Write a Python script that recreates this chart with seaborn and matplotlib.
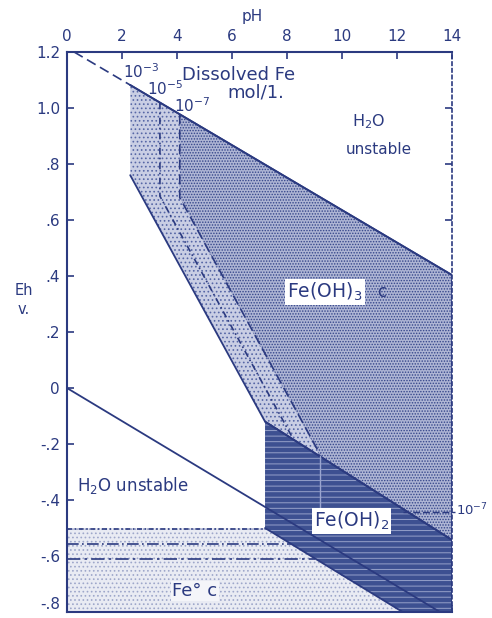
import matplotlib
matplotlib.use("Agg")
import matplotlib.pyplot as plt
import seaborn as sns

# ---------------- data (pH, Eh in volts) ----------------
x_ticks = [0, 2, 4, 6, 8, 10, 12, 14]
y_ticks = [1.2, 1.0, 0.8, 0.6, 0.4, 0.2, 0.0, -0.2, -0.4, -0.6, -0.8]
y_tick_labels = ["1.2", "1.0", ".8", ".6", ".4", ".2", "0", "-.2", "-.4", "-.6", "-.8"]

# water stability limits
o2_ph = [0.26, 2.3, 14.0]
o2_eh = [1.20, 1.082, 0.403]
h2_ph = [0.0, 13.56]
h2_eh = [0.0, -0.80]

# Fe(OH)3 field (10^-3 boundary)
feoh3_ph = [2.3, 14.0, 14.0, 7.2, 2.3]
feoh3_eh = [1.082, 0.403, -0.543, -0.12, 0.76]
# denser part of Fe(OH)3 field (right of 10^-7 boundary)
feoh3_dense_ph = [4.1, 14.0, 14.0, 9.2, 4.1]
feoh3_dense_eh = [0.977, 0.403, -0.543, -0.244, 0.68]

# Fe(OH)2 field
feoh2_ph = [7.2, 14.0, 14.0, 12.2, 7.2]
feoh2_eh = [-0.12, -0.543, -0.80, -0.80, -0.50]

# metallic Fe field
fe_ph = [0.0, 7.2, 12.2, 0.0]
fe_eh = [-0.50, -0.50, -0.80, -0.80]

# dissolved-Fe boundaries for 10^-5 and 10^-7 mol/l
c5_ph = [3.38, 3.38, 8.2]
c5_eh = [1.019, 0.685, -0.178]
c7_ph = [4.1, 4.1, 9.2]
c7_eh = [0.977, 0.68, -0.237]
c7_oh2_ph = [9.2, 9.2]
c7_oh2_eh = [-0.244, -0.50]

# Fe2+/Fe boundaries (10^-3, 10^-5, 10^-7)
fe_lines_eh = [-0.504, -0.557, -0.61]
fe_lines_end_ph = [7.27, 8.15, 9.03]

# right-hand 10^-7 pointer
ptr_ph = [12.2, 14.12]
ptr_eh = [-0.443, -0.443]

# ---------------- styling ----------------
sns.set_theme(style="ticks")
plt.rcParams["font.family"] = ["DejaVu Sans"]
plt.rcParams["mathtext.fontset"] = "dejavusans"
plt.rcParams["hatch.linewidth"] = 0.7

INK = "#2b3a80"

fig = plt.figure(figsize=(4.92, 6.18), dpi=100)
ax = fig.add_axes([0.136, 0.0097, 0.783, 0.9062])

# fields
ax.fill(fe_ph, fe_eh, facecolor="#e9ebf3", edgecolor="#9ea7ca", hatch="....", lw=0, zorder=1)
ax.fill(feoh3_ph, feoh3_eh, facecolor="#c9cee4", edgecolor="#5767a6", hatch="....", lw=0, zorder=1)
ax.fill(feoh3_dense_ph, feoh3_dense_eh, facecolor="#aeb5d4", edgecolor="#34458a", hatch="......", lw=0, zorder=2)
ax.fill(feoh2_ph, feoh2_eh, facecolor="#3d5091", edgecolor="#95a0c9", hatch="---", lw=0, zorder=2)

# field outlines
for px, py in [(feoh3_ph, feoh3_eh), (feoh2_ph, feoh2_eh)]:
    sns.lineplot(x=px, y=py, sort=False, estimator=None, color=INK, lw=1.3, ax=ax, zorder=4)

# water lines
sns.lineplot(x=o2_ph[:2], y=o2_eh[:2], sort=False, estimator=None, color=INK, lw=1.2,
             ax=ax, zorder=4, linestyle=(0, (6, 3)))
sns.lineplot(x=o2_ph[1:], y=o2_eh[1:], sort=False, estimator=None, color=INK, lw=1.3, ax=ax, zorder=4)
sns.lineplot(x=h2_ph, y=h2_eh, sort=False, estimator=None, color=INK, lw=1.3, ax=ax, zorder=4)

# concentration boundaries
sns.lineplot(x=c5_ph, y=c5_eh, sort=False, estimator=None, color=INK, lw=1.2, ax=ax, zorder=4,
             linestyle=(0, (4, 2, 1, 2)))
sns.lineplot(x=c7_ph, y=c7_eh, sort=False, estimator=None, color=INK, lw=1.2, ax=ax, zorder=4,
             linestyle=(0, (6, 3)))
sns.lineplot(x=c7_oh2_ph, y=c7_oh2_eh, sort=False, estimator=None, color="#9aa5cf", lw=1.0, ax=ax, zorder=4)

styles = [(0, (3, 1.5, 1, 1.5)), (0, (7, 2, 1, 2)), (0, (8, 2.5, 1.5, 2.5))]
for eh, end, ls in zip(fe_lines_eh, fe_lines_end_ph, styles):
    sns.lineplot(x=[0.0, end], y=[eh, eh], sort=False, estimator=None, color=INK, lw=1.2,
                 ax=ax, zorder=4, linestyle=ls)

ax.plot(ptr_ph, ptr_eh, color=INK, lw=1.0, linestyle=(0, (5, 2)), zorder=5, clip_on=False)

# axes
ax.set_xlim(0, 14)
ax.set_ylim(-0.8, 1.2)
ax.xaxis.tick_top()
ax.set_xticks(x_ticks)
ax.set_xticklabels([str(t) for t in x_ticks])
ax.set_yticks(y_ticks)
ax.set_yticklabels(y_tick_labels)
ax.tick_params(axis="x", which="both", direction="in", length=5, width=1.2, colors=INK,
               labelsize=11, pad=6, top=True, bottom=True, labeltop=True, labelbottom=False)
ax.tick_params(axis="y", which="both", direction="in", length=5, width=1.2, colors=INK,
               labelsize=11, pad=5, left=True, right=True, labelleft=True, labelright=False)
ax.get_yticklabels()[-1].set_verticalalignment("bottom")
for side in ["top", "left", "bottom"]:
    ax.spines[side].set_color(INK)
    ax.spines[side].set_linewidth(1.5)
ax.spines["right"].set_color(INK)
ax.spines["right"].set_linewidth(1.2)
ax.spines["right"].set_linestyle((0, (2, 2)))
ax.set_xlabel("")
ax.set_ylabel("")

fig.text(252 / 492, 1 - 17 / 618, "pH", ha="center", va="center", color=INK, fontsize=11)
fig.text(24 / 492, 1 - 300 / 618, "Eh\nv.", ha="center", va="center", color=INK,
         fontsize=10.5, linespacing=1.3)

# annotations
tk = dict(color=INK, ha="center", va="center", zorder=6)
ax.text(2.69, 1.129, r"$10^{-3}$", fontsize=11, **tk)
ax.text(3.56, 1.068, r"$10^{-5}$", fontsize=11, **tk)
ax.text(4.55, 1.007, r"$10^{-7}$", fontsize=11, **tk)
ax.text(6.22, 1.118, "Dissolved Fe", fontsize=13, **tk)
ax.text(6.87, 1.054, "mol/1.", fontsize=13, **tk)
ax.text(10.95, 0.95, r"H$_2$O", fontsize=11.5, **tk)
ax.text(11.35, 0.85, "unstable", fontsize=11, **tk)
ax.text(9.38, 0.343, r"Fe(OH)$_3$", fontsize=13.5,
        bbox=dict(facecolor="white", edgecolor="none", pad=1.5), **tk)
ax.text(11.45, 0.343, "c", fontsize=12, **tk)
ax.text(10.33, -0.475, r"Fe(OH)$_2$", fontsize=13.5,
        bbox=dict(facecolor="white", edgecolor="none", pad=1.5), **tk)
ax.text(14.15, -0.436, r"$10^{-7}$", fontsize=9.5, clip_on=False,
        color=INK, ha="left", va="center", zorder=6)
ax.text(2.4, -0.35, r"H$_2$O unstable", fontsize=12, **tk)
ax.text(4.65, -0.725, "Fe° c", fontsize=13,
        bbox=dict(facecolor="#f4f5f9", edgecolor="none", pad=1.0), **tk)

fig.savefig("out.png", dpi=100)
